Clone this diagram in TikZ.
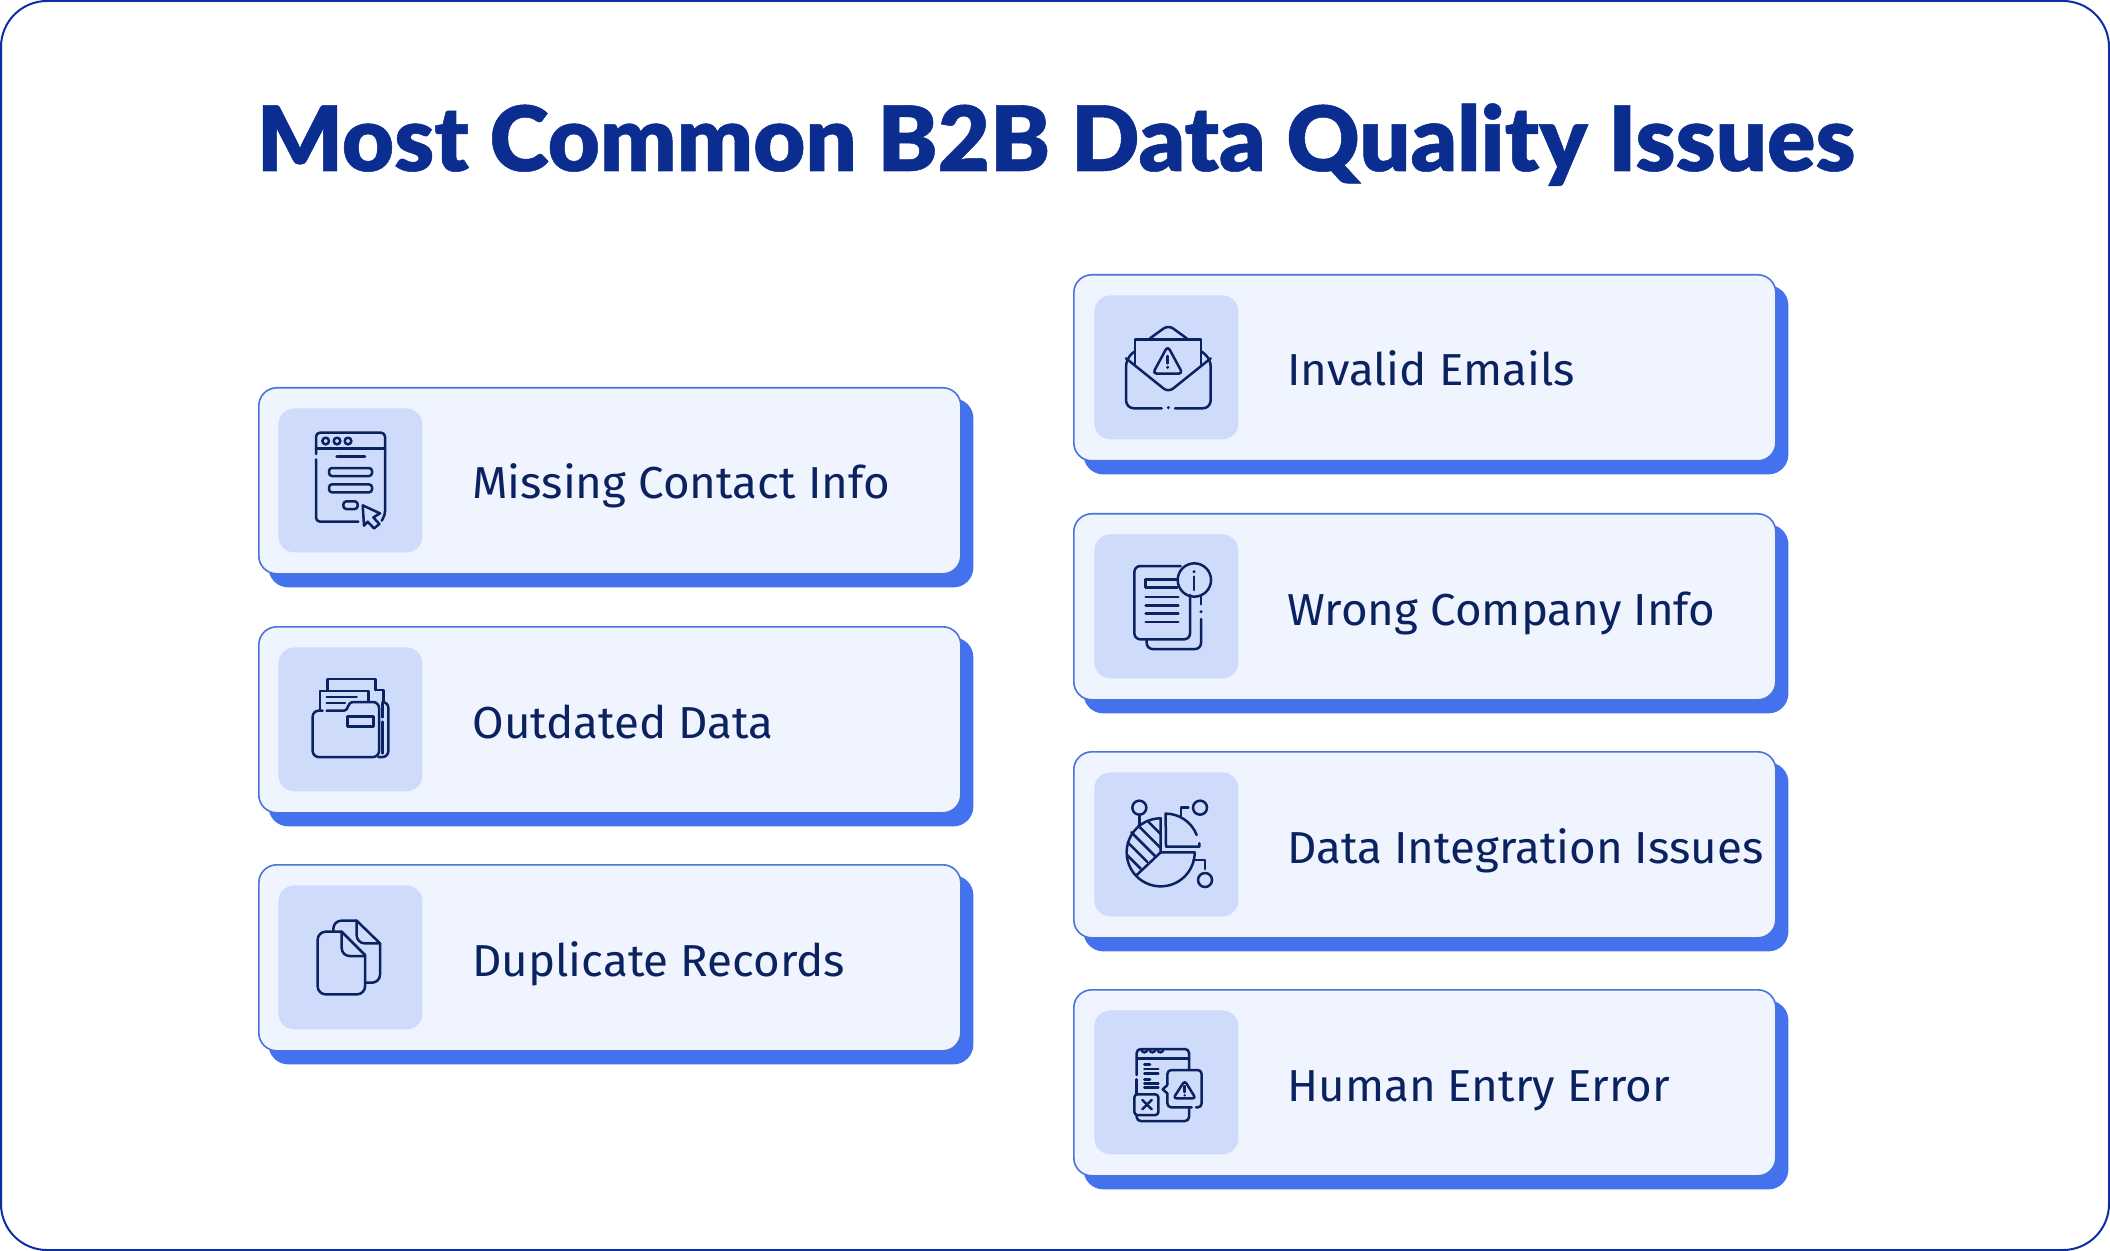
\documentclass[tikz,border=0pt]{standalone}
\usepackage{fontspec}
\setmainfont{Fira Sans}[FakeStretch=1.02]
\newfontfamily\titlefont{Lato Black}[FakeBold=.6]

\definecolor{framecol}{HTML}{0B2FA3}
\definecolor{titlecol}{HTML}{0A2D8F}
\definecolor{cardcol}{HTML}{F0F4FE}
\definecolor{edgecol}{HTML}{4A74DC}
\definecolor{shadecol}{HTML}{4472EE}
\definecolor{tilecol}{HTML}{CEDBFA}
\definecolor{inkcol}{HTML}{0B2260}

\tikzset{
  card/.style={draw=edgecol,line width=.8pt,fill=cardcol,rounded corners=9pt,
    minimum width=351pt,minimum height=93pt,inner sep=0pt,anchor=north west},
  cardshade/.style={fill=shadecol,rounded corners=10pt,
    minimum width=352.5pt,minimum height=94.5pt,inner sep=0pt,anchor=north west},
  tile/.style={fill=tilecol,rounded corners=8pt,minimum size=72pt,inner sep=0pt,anchor=north west},
  lbl/.style={font=\fontsize{22.4}{26}\selectfont,text=inkcol,anchor=base west,inner sep=0pt},
  ico/.style={draw=inkcol,line width=1.25pt,line cap=round,line join=round},
}

\begin{document}
\begin{tikzpicture}[x=.5pt,y=-.5pt]
  \useasboundingbox (0,0) rectangle (2110,1251);

  \draw[framecol,line width=1pt,rounded corners=23pt] (1,1) rectangle (2109,1250);

  \node[font=\titlefont\fontsize{45}{54}\selectfont,text=titlecol,anchor=base,inner sep=0pt] (title) at (1056,171)
    {Most Common B2B Data Quality Issues};

  \foreach \nm/\x/\y/\tx/\txt in {missing/258/387/20/Missing Contact Info,
      outdated/258/626/20/Outdated Data,
      duplicate/258/864/20/Duplicate Records,
      emails/1073/274/21/Invalid Emails,
      company/1073/513/21/Wrong Company Info,
      integration/1073/751/21/Data Integration Issues,
      entry/1073/989/21/Human Entry Error}{
    \node[cardshade] (shade-\nm) at (\x+10,\y+11) {};
    \node[card] (card-\nm) at (\x,\y) {};
    \node[tile] (tile-\nm) at (\x+\tx,\y+21) {};
    \node[lbl] (label-\nm) at (\x+214,\y+112) {\txt};
  }

  % form window
  \begin{scope}[shift={(250,380)},x=.1667pt,y=-.1667pt,ico]
    \draw (198,222) -- (198,170) [rounded corners=2pt] -- (198,158) -- (405,158) -- (405,405) -- (395,422);
    \draw (198,205) -- (405,205);
    \draw[rounded corners=2pt] (198,238) -- (198,425) -- (325,425);
    \foreach \cx in {227,261,294}
      \draw (\cx,183) circle (10);
    \draw (260,229) -- (345,229);
    \draw[rounded corners=1.5pt] (237,264) rectangle (366,288);
    \draw[rounded corners=1.5pt] (237,313) rectangle (366,337);
    \draw[rounded corners=1.5pt] (280,364) rectangle (323,387);
    \draw (338,376) -- (390,400) -- (370,412) -- (388,432) -- (372,445) -- (353,425) -- (342,437) -- cycle;
  \end{scope}

  % folder
  \begin{scope}[shift={(270,640)},x=.1667pt,y=-.1667pt,ico]
    \draw (172,150) -- (172,117) -- (317,117) -- (317,150);
    \draw (150,210) -- (150,153) -- (295,153) -- (295,185);
    \draw (170,171) -- (260,171);
    \draw (170,189) -- (225,189);
    \draw (170,212) -- (222,212) .. controls (238,212) and (228,186) .. (252,186);
    \draw[rounded corners=3pt] (252,186) -- (327,186) -- (327,351) -- (128,351) -- (128,212) -- (158,212);
    \draw (317,150) -- (340,150) -- (340,186);
    \draw[rounded corners=3pt] (340,186) -- (355,186) -- (355,351) -- (325,351);
    \draw (337,190) -- (337,232);
    \draw (337,245) -- (337,340);
    \draw (233,230) rectangle (310,260);
  \end{scope}

  % two sheets
  \begin{scope}[shift={(270,880)},x=.1667pt,y=-.1667pt,ico]
    \draw[rounded corners=4pt] (215,155) -- (143,155) -- (143,343) -- (285,343) -- (285,225);
    \draw (285,225) -- (215,155);
    \draw[rounded corners=4pt] (215,155) -- (215,228) -- (285,228);
    \draw[rounded corners=4pt] (190,155) -- (190,122) -- (260,122);
    \draw (260,122) -- (330,190);
    \draw[rounded corners=4pt] (330,190) -- (330,308) -- (285,308);
    \draw[rounded corners=4pt] (260,122) -- (260,190) -- (330,190);
  \end{scope}

  % envelope
  \begin{scope}[shift={(1090,295)},x=.1667pt,y=-.1667pt,ico]
    \draw[rounded corners=4pt] (215,340) -- (108,340) -- (108,190) -- (133,170);
    \draw[rounded corners=4pt] (255,340) -- (362,340) -- (362,190) -- (335,170);
    \draw[rounded corners=3pt] (108,190) -- (235,292) -- (362,190);
    \draw[rounded corners=3pt] (180,130) -- (235,90) -- (290,130);
    \draw (135,207) -- (135,133) -- (333,133) -- (333,207);
    \draw[rounded corners=2pt] (233,153) -- (188,236) -- (278,236) -- cycle;
    \draw (233,183) -- (233,205);
    \fill[inkcol] (233,217) circle (5);
    \fill[inkcol] (235,338) circle (5);
  \end{scope}

  % sheet with info mark
  \begin{scope}[shift={(1090,535)},x=.1667pt,y=-.1667pt,ico]
    \draw[rounded corners=3pt] (272,93) -- (133,93) -- (133,313) -- (300,313) -- (300,180);
    \draw (313,135) circle (50);
    \draw (312,125) -- (312,165);
    \fill[inkcol] (312,110) circle (5);
    \draw (262,133) -- (167,133) -- (167,158) -- (262,158);
    \foreach \ly in {186,211,236,261}
      \draw (167,\ly) -- (265,\ly);
    \draw[rounded corners=3pt] (170,315) -- (170,342) -- (333,342) -- (333,252);
    \draw (333,185) -- (333,208);
    \fill[inkcol] (333,230) circle (5);
  \end{scope}

  % pie chart
  \begin{scope}[shift={(1090,775)},x=.1667pt,y=-.1667pt,ico]
    \draw (212,130) arc[start angle=-90,end angle=-360,radius=102] -- (212,232) -- cycle;
    \draw (212,232) -- (140,300);
    \draw (175,140) -- (212,177);
    \draw (145,152) -- (212,219);
    \draw (124,172) -- (195,243);
    \draw (113,202) -- (172,261);
    \draw (112,241) -- (152,281);
    \draw (320,180) arc[start angle=-21,end angle=-90,radius=100] -- (228,215) -- (328,215) -- (328,205);
    \draw (273,125) -- (273,98) -- (295,98);
    \draw (330,98) circle (21);
    \draw (148,98) circle (21);
    \draw (148,120) -- (148,150);
    \draw (310,255) -- (345,255) -- (345,282);
    \draw (345,315) circle (21);
  \end{scope}

  % window with warnings
  \begin{scope}[shift={(1090,1010)},x=.1667pt,y=-.1667pt,ico]
    \draw[rounded corners=2pt] (140,195) -- (140,117) -- (297,117) -- (297,178);
    \draw (140,145) -- (297,145);
    \draw (140,208) -- (140,250);
    \draw[rounded corners=2pt] (140,316) -- (140,333) -- (297,333) -- (297,295);
    \foreach \cx in {163,187,211}
      \draw (\cx-9,118) arc[start angle=180,end angle=0,radius=9];
    \draw (163,163) -- (180,163);
    \draw (163,177) -- (205,177);
    \draw (163,190) -- (205,190);
    \draw (163,208) -- (180,208);
    \draw (163,220) -- (205,220);
    \draw (163,233) -- (205,233);
    \draw[rounded corners=1.5pt] (133,253) rectangle (205,315);
    \draw (157,270) -- (185,298);
    \draw (185,270) -- (157,298);
    \draw[rounded corners=2pt] (318,292) -- (335,292) -- (335,180) -- (232,180) -- (232,225);
    \draw (232,225) -- (218,238) -- (232,250);
    \draw[rounded corners=2pt] (232,250) -- (232,292) -- (305,292);
    \draw[rounded corners=1.5pt] (284,212) -- (250,265) -- (317,265) -- cycle;
    \draw (284,228) -- (284,246);
    \fill[inkcol] (284,256) circle (4);
  \end{scope}
\end{tikzpicture}
\end{document}
